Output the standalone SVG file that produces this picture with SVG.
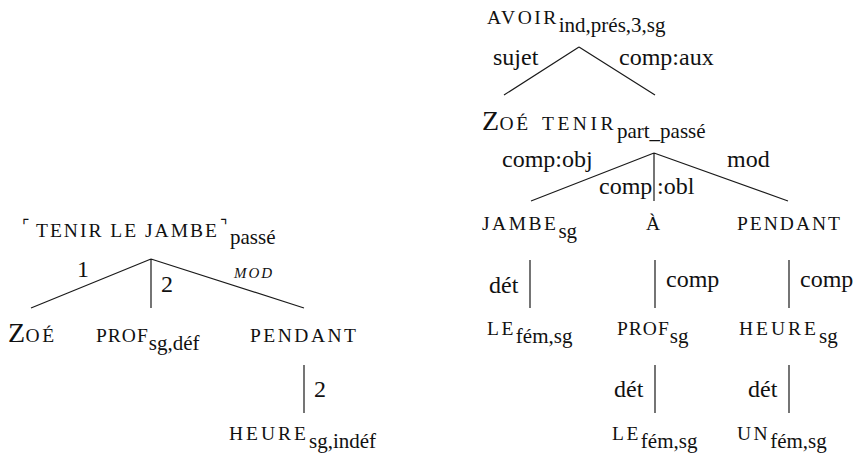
<svg xmlns="http://www.w3.org/2000/svg" width="856" height="464" viewBox="0 0 856 464" font-family="'Liberation Serif', 'Times New Roman', 'DejaVu Serif', serif">
<style>
text { font-family: "Liberation Serif", "Times New Roman", "DejaVu Serif", serif; fill: #111; }
.sc { font-size: 19.5px; letter-spacing: 2.5px; }
.big { font-size: 28px; letter-spacing: 0.5px; }
.sub { font-size: 21px; letter-spacing: 0; }
.lbl { font-size: 24px; }
.it { font-size: 15px; font-style: italic; letter-spacing: 2px; }
.cn { font-size: 16px; letter-spacing: 0; }
.edge { stroke: #1a1a1a; stroke-width: 1.2; fill: none; }
</style>
<g id="connectors">
  <path class="edge" d="M151,259 L31,308 M151,259 L151,308 M151,259 L304,308"/>
  <path class="edge" d="M304,365 L304,413"/>
  <path class="edge" d="M579,47 L504,95 M579,47 L655,95"/>
  <path class="edge" d="M654,153 L531,201 M654,153 L654,201 M654,153 L788,201"/>
  <path class="edge" d="M530,260 L530,308 M655,260 L655,308 M789,260 L789,308"/>
  <path class="edge" d="M655,365 L655,413 M789,365 L789,413"/>
  <text class="lbl" x="77" y="277">1</text>
  <text class="lbl" x="161" y="292">2</text>
  <text class="it" x="234" y="278">MOD</text>
  <text class="lbl" x="314" y="397">2</text>
  <text class="lbl" x="493" y="65">sujet</text>
  <text class="lbl" x="619" y="65">comp:aux</text>
  <text class="lbl" x="502" y="167">comp:obj</text>
  <text class="lbl"><tspan x="599" y="194">comp</tspan><tspan x="657" y="194">:obl</tspan></text>
  <text class="lbl" x="727" y="167">mod</text>
  <text class="lbl" x="489" y="293">dét</text>
  <text class="lbl" x="666" y="287">comp</text>
  <text class="lbl" x="800" y="287">comp</text>
  <text class="lbl" x="614" y="397">dét</text>
  <text class="lbl" x="748" y="397">dét</text>
</g>
<g id="n-tenir-le-jambe">
  <text class="sc" y="237"><tspan class="cn" x="22" dy="-6">⌜</tspan><tspan x="36" dy="6" style="letter-spacing:2px">TENIR LE JAMBE</tspan><tspan class="cn" x="220" dy="-6">⌝</tspan><tspan class="sub" x="230" dy="13">passé</tspan></text>
</g>
<g id="n-zoe-1"><text class="sc" x="8" y="342"><tspan class="big">Z</tspan>OÉ</text></g>
<g id="n-prof-1"><text class="sc" x="96" y="342" style="letter-spacing:1px">PROF<tspan class="sub" dy="8">sg,déf</tspan></text></g>
<g id="n-pendant-1"><text class="sc" x="250" y="342">PENDANT</text></g>
<g id="n-heure-1"><text class="sc" x="229" y="440" style="letter-spacing:3px">HEURE<tspan class="sub" dy="8">sg,indéf</tspan></text></g>

<g id="n-avoir"><text class="sc" x="487" y="24">AVOIR<tspan class="sub" dy="8">ind,prés,3,sg</tspan></text></g>
<g id="n-zoe-2"><text class="sc" x="482" y="130"><tspan class="big">Z</tspan>OÉ</text></g>
<g id="n-tenir"><text class="sc" x="542" y="130" style="letter-spacing:3.5px">TENIR<tspan class="sub" dy="8">part_passé</tspan></text></g>
<g id="n-jambe"><text class="sc" x="482" y="230">JAMBE<tspan class="sub" dy="8">sg</tspan></text></g>
<g id="n-a"><text class="sc" x="646" y="230">À</text></g>
<g id="n-pendant-2"><text class="sc" x="737" y="230" style="letter-spacing:2px">PENDANT</text></g>
<g id="n-le-1"><text class="sc" x="487" y="335">LE<tspan class="sub" dy="8">fém,sg</tspan></text></g>
<g id="n-prof-2"><text class="sc" x="617" y="335" style="letter-spacing:1px">PROF<tspan class="sub" dy="8">sg</tspan></text></g>
<g id="n-heure-2"><text class="sc" x="739" y="335" style="letter-spacing:3px">HEURE<tspan class="sub" dy="8">sg</tspan></text></g>
<g id="n-le-2"><text class="sc" x="612" y="440">LE<tspan class="sub" dy="8">fém,sg</tspan></text></g>
<g id="n-un"><text class="sc" x="737" y="440">UN<tspan class="sub" dy="8">fém,sg</tspan></text></g>
</svg>
